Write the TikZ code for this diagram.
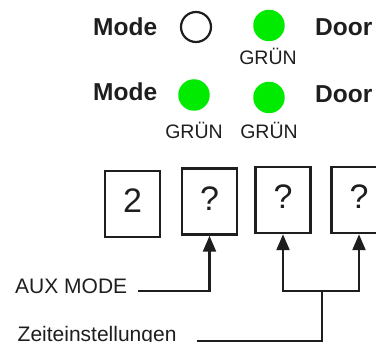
\documentclass[tikz,border=0pt]{standalone}
\usepackage{fontspec}
\setmainfont{Liberation Sans}
\usetikzlibrary{arrows.meta}
\definecolor{ledgreen}{RGB}{0,235,0}
\definecolor{ink}{RGB}{30,30,30}
\begin{document}
\begin{tikzpicture}[x=1pt,y=-1pt,
  boldlbl/.style={inner sep=0pt, anchor=base west, text=ink, font=\fontsize{24.5}{28}\selectfont\bfseries},
  gruen/.style={inner sep=0pt, anchor=base, text=ink, font=\fontsize{19.5}{23}\selectfont},
  sidelbl/.style={inner sep=0pt, anchor=base west, text=ink, font=\fontsize{21}{25}\selectfont},
  ledoff/.style={circle, draw=ink, line width=2.2pt, minimum size=30pt, inner sep=0pt},
  ledon/.style={circle, fill=ledgreen, minimum size=31.5pt, inner sep=0pt},
  digitbox/.style={draw=ink, line width=2.5pt, minimum width=55pt, minimum height=66pt, inner sep=0pt, text depth=6pt, text=ink, font=\fontsize{34}{40}\selectfont},
  conn/.style={draw=ink, line width=2.4pt, -{Triangle[length=16pt,width=13pt]}},
  plainline/.style={draw=ink, line width=2.4pt}]
\useasboundingbox (0,0) rectangle (376,342);
\clip (0,0) rectangle (376,342);
% row 1
\node[boldlbl] (mode1) at (93,35.5) {Mode};
\node[ledoff] (l1) at (196,27) {};
\node[ledon] (l2) at (269,25.5) {};
\node[gruen] (g1) at (268,65) {GRÜN};
\node[boldlbl] (door1) at (315,36) {Door};
% row 2
\node[boldlbl] (mode2) at (93,101) {Mode};
\node[ledon] (l3) at (194,95) {};
\node[ledon] (l4) at (269,97.5) {};
\node[boldlbl] (door2) at (315,103) {Door};
\node[gruen] (g2) at (194,139) {GRÜN};
\node[gruen] (g3) at (269,139) {GRÜN};
% digit boxes
\node[digitbox] (b1) at (132.5,204) {2};
\node[digitbox] (b2) at (209.5,201.5) {?};
\node[digitbox] (b3) at (283,200) {?};
\node[digitbox] (b4) at (359,200) {?};
% side labels
\node[sidelbl] (aux) at (15,294) {AUX MODE};
\node[sidelbl] (zeit) at (17.5,342) {Zeiteinstellungen};
% connectors
\coordinate (auxend) at (138,291);
\coordinate (split) at (322,291);
\coordinate (zeitend) at (197,341);
\draw[conn] (auxend) -| (b2.south);
\draw[conn] (split) -| (b3.south);
\draw[conn] (split) -| (b4.south);
\draw[plainline] (split) |- (zeitend);
\end{tikzpicture}
\end{document}
